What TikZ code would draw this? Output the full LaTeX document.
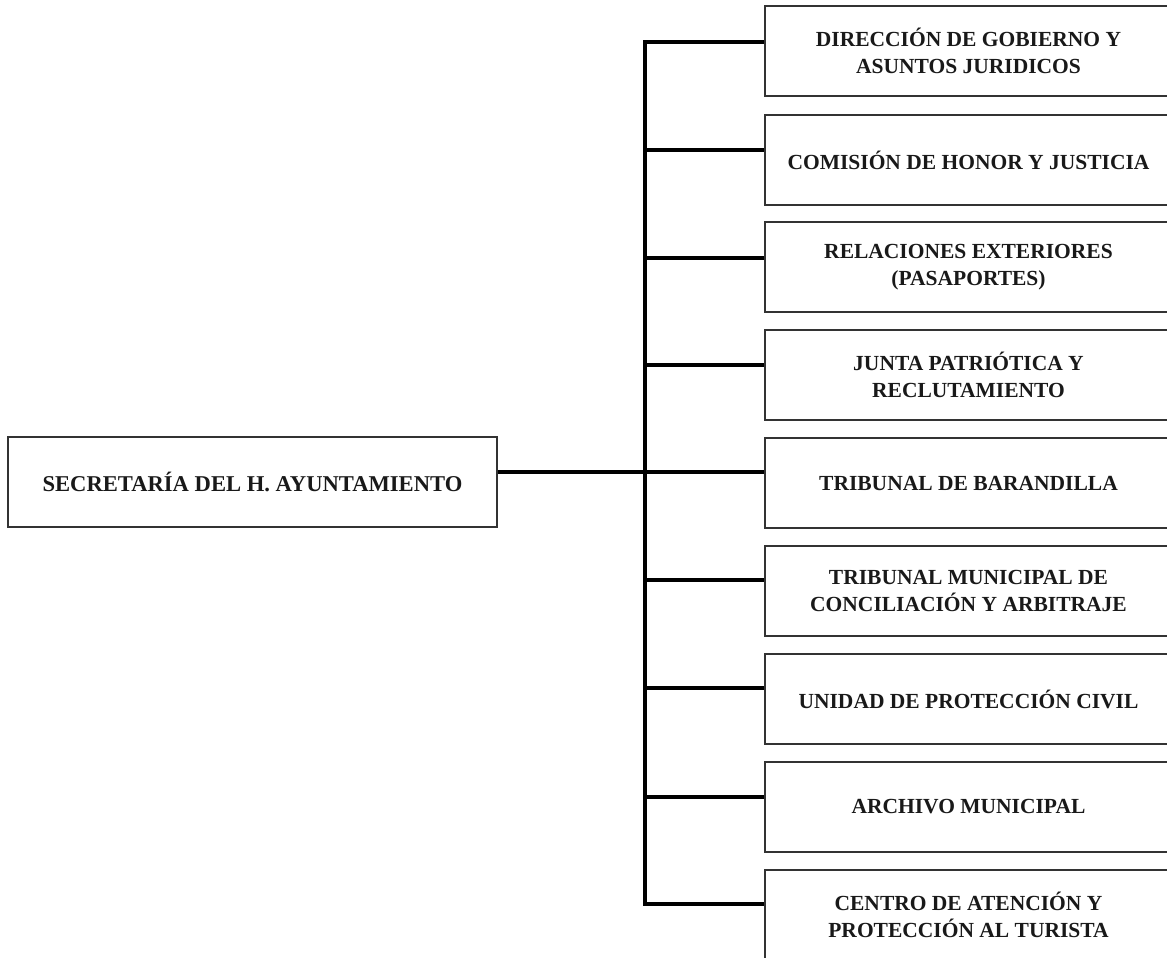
\documentclass[tikz,border=0pt]{standalone}
\usepackage{fontspec}
\setmainfont{Liberation Serif}
\begin{document}
\begin{tikzpicture}[x=1pt,y=-1pt,
  unit/.style={draw=black!80, line width=2pt, fill=white, minimum width=407pt, minimum height=90pt,
    inner sep=0pt, align=center, font=\fontsize{21.5}{26.5}\selectfont\bfseries, text=black!90},
  conn/.style={draw=black, line width=3.5pt, line cap=butt}]
\useasboundingbox (0,0) rectangle (1167,958);
\begin{scope}
\clip (0,0) rectangle (1167,958);
\node[unit, minimum width=489pt, font=\fontsize{22.6}{26.5}\selectfont\bfseries] (sec) at (252.5,482) {SECRETARÍA DEL H. AYUNTAMIENTO};
\node[unit] (b1) at (968.5,51) {DIRECCIÓN DE GOBIERNO Y\\ASUNTOS JURIDICOS};
\node[unit] (b2) at (968.5,160) {COMISIÓN DE HONOR Y JUSTICIA};
\node[unit] (b3) at (968.5,267) {RELACIONES EXTERIORES\\(PASAPORTES)};
\node[unit] (b4) at (968.5,375) {JUNTA PATRIÓTICA Y\\RECLUTAMIENTO};
\node[unit] (b5) at (968.5,483) {TRIBUNAL DE BARANDILLA};
\node[unit] (b6) at (968.5,591) {TRIBUNAL MUNICIPAL DE\\CONCILIACIÓN Y ARBITRAJE};
\node[unit] (b7) at (968.5,699) {UNIDAD DE PROTECCIÓN CIVIL};
\node[unit] (b8) at (968.5,807) {ARCHIVO MUNICIPAL};
\node[unit] (b9) at (968.5,915) {CENTRO DE ATENCIÓN Y\\PROTECCIÓN AL TURISTA};
\coordinate (j1) at (645,42);
\coordinate (j2) at (645,150);
\coordinate (j3) at (645,258);
\coordinate (j4) at (645,365);
\coordinate (j5) at (645,472);
\coordinate (j6) at (645,580);
\coordinate (j7) at (645,688);
\coordinate (j8) at (645,797);
\coordinate (j9) at (645,904);
\draw[conn] ([yshift=-1.75pt]j1) -- ([yshift=1.75pt]j9);
\foreach \i in {1,...,9} {\draw[conn] ([xshift=-1.75pt]j\i) -- (j\i -| b\i.west);}
\draw[conn] (j5 -| sec.east) -- (j5);
\end{scope}
\end{tikzpicture}
\end{document}
